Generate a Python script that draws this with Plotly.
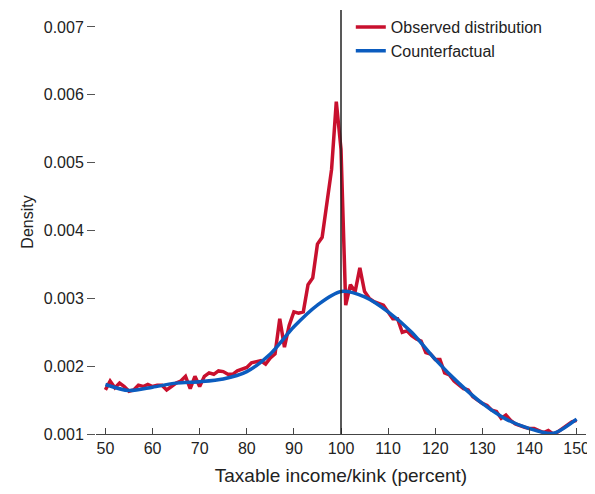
import plotly.graph_objects as go

x_obs = list(range(50, 151))
observed = [0.00165,0.00178,0.00168,0.00175,0.0017,0.00163,0.00165,0.00172,0.0017,0.00173,
0.0017,0.00172,0.00172,0.00165,0.0017,0.00175,0.00178,0.00185,0.00167,0.00185,
0.0017,0.00185,0.0019,0.00188,0.00193,0.00192,0.00188,0.00188,0.00193,0.00195,
0.00198,0.00205,0.00207,0.00208,0.00203,0.00212,0.00218,0.0027,0.00228,0.0026,
0.0028,0.00278,0.0028,0.0032,0.0033,0.0038,0.0039,0.0044,0.0049,0.0059,
0.0052,0.0029,0.0032,0.0031,0.00345,0.0031,0.003,0.00295,0.00292,0.0029,
0.0028,0.0027,0.0027,0.0025,0.00252,0.00245,0.0024,0.00237,0.0022,0.00218,
0.0021,0.0021,0.0019,0.00187,0.00178,0.00172,0.00167,0.00165,0.00155,0.0015,
0.00145,0.00142,0.00135,0.00133,0.00123,0.00128,0.0012,0.00115,0.00112,0.0011,
0.00108,0.00108,0.00105,0.00102,0.00105,0.001,0.00103,0.00108,0.00112,0.00118,0.0012]
x_cf = [50,55,60,65,70,75,80,85,90,95,100,105,110,115,120,125,130,135,140,145,150]
counterfactual = [0.00173,0.00164,0.00169,0.00175,0.00177,0.00181,0.00192,0.00218,0.00258,0.0029,
0.0031,0.00302,0.0028,0.0025,0.0021,0.00175,0.00145,0.00122,0.00108,0.00101,0.00122]
x_ticks = list(range(50, 151, 10))
y_ticks = [0.001,0.002,0.003,0.004,0.005,0.006,0.007]

font = "Liberation Sans, Arial, sans-serif"
fig = go.Figure()
fig.add_trace(go.Scatter(x=x_obs, y=observed, mode="lines", name="Observed distribution",
                         line=dict(color="#c8102e", width=3.5)))
fig.add_trace(go.Scatter(x=x_cf, y=counterfactual, mode="lines", name="Counterfactual",
                         line=dict(color="#0b5cbf", width=3.5, shape="spline", smoothing=0.8)))
fig.add_vline(x=100, line=dict(color="#222", width=1.5))
fig.update_layout(
    width=595, height=494, plot_bgcolor="white", paper_bgcolor="white",
    margin=dict(l=88, r=17, t=2, b=68),
    font=dict(family=font, size=16, color="#222"),
    legend=dict(x=0.52, y=1.0, xanchor="left", yanchor="top", bgcolor="rgba(0,0,0,0)",
                font=dict(size=16), tracegroupgap=0),
)
fig.update_xaxes(range=[48, 152], tickvals=x_ticks, ticks="inside", ticklen=6, automargin=False,
                 showline=True, linecolor="#444", showgrid=False, zeroline=False,
                 title=dict(text="Taxable income/kink (percent)", standoff=12))
fig.update_yaxes(range=[0.001, 0.00725], tickvals=y_ticks, tickformat=".3f", ticks="outside",
                 ticklen=8, tickcolor="#555", mirror="ticks", showline=False, showgrid=False,
                 automargin=False, zeroline=False,
                 title=dict(text="Density", font=dict(size=16), standoff=6))
fig.write_html("out.html")
